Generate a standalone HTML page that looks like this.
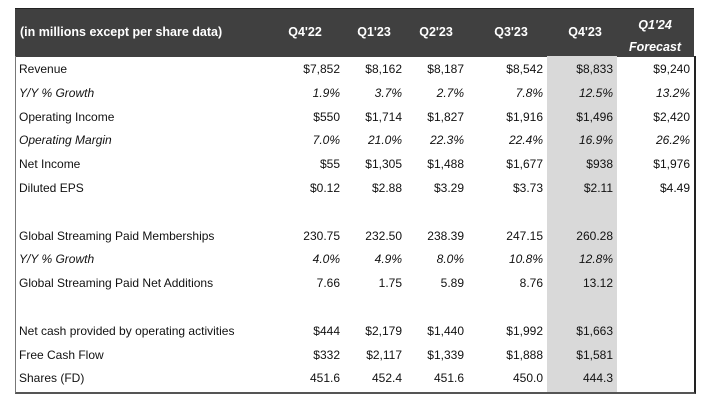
<!DOCTYPE html>
<html><head><meta charset="utf-8"><style>
body{margin:0;width:717px;height:412px;background:#fff;font-family:"Liberation Sans",sans-serif;font-size:12px;color:#111;position:relative;overflow:hidden}
#hdr{position:absolute;left:15px;top:8px;width:679px;height:48px;background:#404040;border-top:1px solid #222}
.h{position:absolute;color:#fff;font-weight:bold;font-size:12.5px;text-align:center}
#gray{position:absolute;left:547px;top:56px;width:70px;height:337px;background:#d9d9d9}
#frame{position:absolute;left:15px;top:56px;width:678px;height:336px;border-left:1px solid #777;border-right:2px solid #222;border-bottom:2px solid #555}
.c{position:absolute;white-space:nowrap;line-height:14px}
.r{text-align:right}
.i{font-style:italic}
</style></head><body>
<div id="hdr"></div>
<div class="h" style="left:20px;top:25px;text-align:left">(in millions except per share data)</div>
<div class="h" style="left:275px;top:25px;width:60px">Q4'22</div>
<div class="h" style="left:344px;top:25px;width:60px">Q1'23</div>
<div class="h" style="left:406px;top:25px;width:60px">Q2'23</div>
<div class="h" style="left:481px;top:25px;width:60px">Q3'23</div>
<div class="h" style="left:555px;top:25px;width:60px">Q4'23</div>
<div class="h i" style="left:615px;top:14px;width:80px;line-height:22px">Q1'24<br>Forecast</div>
<div id="gray"></div>
<div id="frame"></div>
<div id="rows"></div>
<script>
const labels=["Revenue","Y/Y % Growth","Operating Income","Operating Margin","Net Income","Diluted EPS","","Global Streaming Paid Memberships","Y/Y % Growth","Global Streaming Paid Net Additions","","Net cash provided by operating activities","Free Cash Flow","Shares (FD)"];
const italic=[0,1,0,1,0,0,0,0,1,0,0,0,0,0];
const q422=["$7,852","1.9%","$550","7.0%","$55","$0.12","","230.75","4.0%","7.66","","$444","$332","451.6"];
const q123=["$8,162","3.7%","$1,714","21.0%","$1,305","$2.88","","232.50","4.9%","1.75","","$2,179","$2,117","452.4"];
const q223=["$8,187","2.7%","$1,827","22.3%","$1,488","$3.29","","238.39","8.0%","5.89","","$1,440","$1,339","451.6"];
const q323=["$8,542","7.8%","$1,916","22.4%","$1,677","$3.73","","247.15","10.8%","8.76","","$1,992","$1,888","450.0"];
const q423=["$8,833","12.5%","$1,496","16.9%","$938","$2.11","","260.28","12.8%","13.12","","$1,663","$1,581","444.3"];
const q124=["$9,240","13.2%","$2,420","26.2%","$1,976","$4.49","","","","","","","",""];
const cols=[q422,q123,q223,q323,q423,q124];
const colNames=["q4-22","q1-23","q2-23","q3-23","q4-23","q1-24"];
const rights=[340,402,464,543,613,690];
const root=document.getElementById('rows');
function y(i){return 62+i*23.8;}
labels.forEach((l,i)=>{
 if(l){const d=document.createElement('div');d.className='c'+(italic[i]?' i':'');
 
 
 d.style.left='19px';d.style.top=y(i)+'px';d.textContent=l;root.appendChild(d);}
 cols.forEach((c,j)=>{if(!c[i])return;const d=document.createElement('div');d.className='c r'+(italic[i]?' i':'');
 
 
 d.style.left=(rights[j]-80)+'px';d.style.width='80px';d.style.top=y(i)+'px';d.textContent=c[i];root.appendChild(d);});
});
</script>
</body></html>
